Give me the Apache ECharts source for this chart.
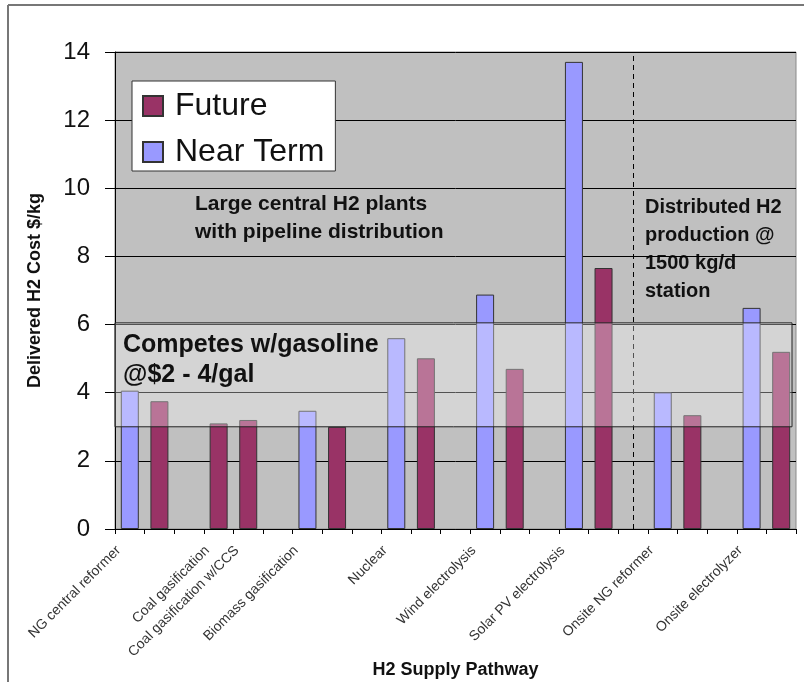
<!DOCTYPE html>
<html>
<head>
<meta charset="utf-8">
<script src="https://cdn.jsdelivr.net/npm/echarts@6/dist/echarts.min.js"></script>
<style>
  html, body { margin: 0; padding: 0; background: #fff; }
  #chart { width: 804px; height: 682px; }
</style>
</head>
<body>
<div id="chart"></div>
<script>
// one slot per bar, labels only on some slots (like the excel original)
var slotLabels = [
  'NG central reformer', '', '',
  'Coal gasification', 'Coal gasification w/CCS', '',
  'Biomass gasification', '', '',
  'Nuclear', '', '',
  'Wind electrolysis', '', '',
  'Solar PV electrolysis', '', '',
  'Onsite NG reformer', '', '',
  'Onsite electrolyzer', ''
]
var nearTerm = [4.06, null, null, null, null, null, 3.47, null, null, 5.6, null, null,
  6.88, null, null, 13.71, null, null, 4.01, null, null, 6.49, null]
var future = [null, 3.75, null, 3.1, 3.2, null, null, 3.0, null, null, 5.01, null,
  null, 4.7, null, null, 7.66, null, null, 3.34, null, null, 5.2]
var gasolineBand = [3, 6.05]
var dividerSlot = 17
var yTicks = { min: 0, max: 14, interval: 2 }

var font = 'Arial, "Liberation Sans", sans-serif'
var chart = echarts.init(document.getElementById('chart'))

// light band drawn over the bars, from the y scale
function renderBand(params, api) {
  var cs = params.coordSys
  var yTop = api.coord([0, api.value(1)])[1]
  var yBot = api.coord([0, api.value(0)])[1]
  return {
    type: 'group',
    children: [
      {
        type: 'rect',
        shape: { x: cs.x, y: yTop, width: cs.width - 4, height: yBot - yTop },
        style: { fill: 'rgba(255,255,255,0.32)', stroke: '#222', lineWidth: 1 }
      },
      {
        type: 'text',
        x: cs.x + 8,
        y: yTop + 7,
        style: {
          text: 'Competes w/gasoline\n@$2 - 4/gal',
          font: 'bold 25px ' + font,
          lineHeight: 30,
          fill: '#111'
        }
      }
    ]
  }
}

chart.setOption({
  animation: false,
  textStyle: { fontFamily: font },
  grid: {
    left: 115, right: 8, top: 52, bottom: 153,
    outerBoundsMode: 'none',
    show: true,
    backgroundColor: '#c0c0c0',
    borderColor: '#8a8a8a',
    borderWidth: 1
  },
  legend: {
    data: ['Future', 'Near Term'],
    orient: 'vertical',
    left: 132,
    top: 81,
    icon: 'rect',
    backgroundColor: '#fff',
    borderColor: '#333',
    borderWidth: 1,
    padding: [9, 11, 3, 10],
    itemGap: 14,
    itemWidth: 20,
    itemHeight: 20,
    textStyle: { fontSize: 32, color: '#111', fontFamily: font, padding: [0, 0, 0, 7] }
  },
  xAxis: {
    type: 'category',
    data: slotLabels,
    name: 'H2 Supply Pathway',
    nameLocation: 'middle',
    nameGap: 132,
    nameMoveOverlap: false,
    nameTextStyle: { fontSize: 18, fontWeight: 'bold', color: '#111' },
    axisLine: { lineStyle: { color: '#000' } },
    axisTick: { show: true, interval: 0, length: 5, lineStyle: { color: '#000' } },
    axisLabel: {
      interval: 0,
      rotate: 45,
      margin: 8,
      fontSize: 14,
      color: '#333',
      padding: [0, 16, 0, 0]
    }
  },
  yAxis: {
    type: 'value',
    min: yTicks.min,
    max: yTicks.max,
    interval: yTicks.interval,
    name: 'Delivered H2 Cost $/kg',
    nameLocation: 'middle',
    nameGap: 71,
    nameTextStyle: { fontSize: 18, fontWeight: 'bold', color: '#111' },
    axisLine: { show: true, lineStyle: { color: '#000' } },
    axisTick: { show: true, length: 10, lineStyle: { color: '#000' } },
    axisLabel: { fontSize: 24, color: '#111', margin: 25 },
    splitLine: { lineStyle: { color: '#000', width: 1 } }
  },
  series: [
    {
      name: 'Near Term',
      type: 'bar',
      data: nearTerm,
      barWidth: 18,
      barGap: '-100%',
      z: 2,
      itemStyle: { color: '#9999ff', borderColor: '#333', borderWidth: 1 }
    },
    {
      name: 'Future',
      type: 'bar',
      data: future,
      barWidth: 18,
      barGap: '-100%',
      z: 2,
      itemStyle: { color: '#993366', borderColor: '#333', borderWidth: 1 },
      markLine: {
        silent: true,
        symbol: 'none',
        label: { show: false },
        lineStyle: { color: '#000', type: [5, 4], width: 1 },
        data: [{ xAxis: dividerSlot }]
      }
    },
    {
      name: 'band',
      type: 'custom',
      z: 10,
      silent: true,
      clip: false,
      renderItem: renderBand,
      data: [gasolineBand]
    }
  ],
  graphic: [
    {
      type: 'text',
      left: 195,
      top: 190,
      style: {
        text: 'Large central H2 plants\nwith pipeline distribution',
        font: 'bold 21px ' + font,
        lineHeight: 28,
        fill: '#111'
      }
    },
    {
      type: 'text',
      left: 645,
      top: 193,
      style: {
        text: 'Distributed H2\nproduction @\n1500 kg/d\nstation',
        font: 'bold 20px ' + font,
        lineHeight: 28,
        fill: '#111'
      }
    },
    {
      type: 'line',
      shape: { x1: 8, y1: 5, x2: 804, y2: 5 },
      style: { stroke: '#777', lineWidth: 2 }
    },
    {
      type: 'line',
      shape: { x1: 8, y1: 5, x2: 8, y2: 682 },
      style: { stroke: '#777', lineWidth: 2 }
    }
  ]
})
</script>
</body>
</html>
